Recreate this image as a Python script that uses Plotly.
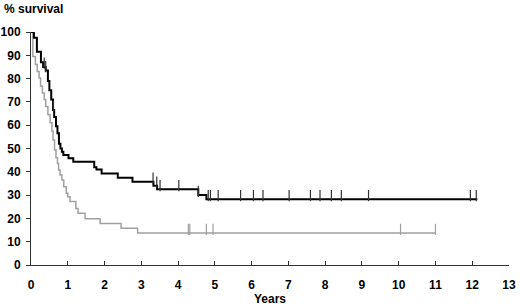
import numpy as np
import plotly.graph_objects as go

# ---- data ----
black_times = [0, 0.08, 0.16, 0.27, 0.33, 0.40, 0.46, 0.50, 0.55, 0.60, 0.63, 0.68, 0.72,
               0.76, 0.80, 0.84, 0.88, 1.02, 1.15, 1.72, 1.78, 1.92, 2.36, 2.76, 3.33,
               3.43, 4.55, 4.77]
black_surv = [100, 97.5, 91.5, 87, 85, 83.5, 79, 75, 71, 66.5, 63.5, 59.5, 56.5,
              52, 50, 48.6, 47.2, 45.8, 44.3, 42, 41, 39.3, 37.5, 35.7, 34,
              32.5, 30, 28.2]
black_end = 12.14
black_censor = [0.36, 0.40, 0.61, 3.32, 3.42, 3.51, 4.02, 4.55, 4.82, 4.88, 5.09, 5.70,
                6.05, 6.31, 7.02, 7.60, 7.86, 8.17, 8.44, 9.18, 11.95, 12.11]

grey_times = [0, 0.05, 0.12, 0.17, 0.22, 0.26, 0.31, 0.36, 0.40, 0.46, 0.52, 0.57, 0.60,
              0.64, 0.68, 0.72, 0.75, 0.79, 0.84, 0.89, 0.96, 1.0, 1.06, 1.22, 1.28,
              1.47, 1.88, 2.45, 2.9]
grey_surv = [100, 89.5, 86, 83, 80.3, 76.7, 73.8, 71, 68, 64.5, 61, 57.4, 53.6,
             49.4, 46, 43.6, 40.8, 38.6, 36.5, 33.6, 30.8, 29.3, 27.2, 24.3, 22.2,
             19.8, 17.8, 15.8, 13.7]
grey_end = 11.0
grey_censor = [4.28, 4.32, 4.77, 4.95, 10.05, 11.0]

x_ticks = list(range(0, 14))
y_ticks = list(range(0, 101, 10))

# ---- style ----
TICK_UP = 1.6  # lift of censor marks above the curve (data units)
FONT = "Liberation Sans, Arial, sans-serif"


def step_value(times, surv, t):
    i = np.searchsorted(np.array(times), t, side="right") - 1
    return surv[max(i, 0)]


fig = go.Figure()

for times, surv, end, cens, col, w, mcol in [
    (grey_times, grey_surv, grey_end, grey_censor, "#a0a0a0", 1.5, "#a0a0a0"),
    (black_times, black_surv, black_end, black_censor, "#000000", 2.0, "#333333"),
]:
    fig.add_trace(go.Scatter(
        x=list(times) + [end], y=list(surv) + [surv[-1]],
        mode="lines", line=dict(color=col, width=w, shape="hv"),
        cliponaxis=False, showlegend=False, hoverinfo="skip"))
    cy = [step_value(times, surv, t) + TICK_UP for t in cens]
    fig.add_trace(go.Scatter(
        x=cens, y=cy, mode="markers",
        marker=dict(symbol="line-ns", size=8, line=dict(color=mcol, width=1.2)),
        cliponaxis=False, showlegend=False, hoverinfo="skip"))

fig.update_layout(
    width=520, height=308,
    margin=dict(l=31, r=11, t=32, b=43, autoexpand=False),
    paper_bgcolor="white", plot_bgcolor="white",
    font=dict(family=FONT, size=12, color="black"),
    xaxis=dict(range=[0, 13], tickvals=x_ticks, ticktext=[str(v) for v in x_ticks],
               automargin=False, ticklabelstandoff=9,
               showgrid=False, zeroline=False, showline=True, linecolor="#333333",
               linewidth=1, ticks="inside", ticklen=4, tickcolor="#333333",
               tickfont=dict(family=FONT, size=12, color="black", weight="bold"),
               title=dict(text="<b>Years</b>", font=dict(family=FONT, size=12), standoff=2)),
    yaxis=dict(range=[0, 100], tickvals=y_ticks, ticktext=[str(v) for v in y_ticks],
               automargin=False, ticklabelstandoff=3,
               showgrid=False, zeroline=False, showline=True, linecolor="#333333",
               linewidth=1, ticks="outside", ticklen=4, tickcolor="#333333",
               tickfont=dict(family=FONT, size=12, color="black", weight="bold")),
    annotations=[dict(text="<b>% survival</b>", xref="paper", yref="paper",
                      x=-29 / 478, y=1 + 23 / 233, xanchor="left", yanchor="middle",
                      showarrow=False, font=dict(family=FONT, size=12, color="black"))],
)

fig.write_html("out.html", config={"displayModeBar": False},
               post_script="document.body.style.margin='0';")
